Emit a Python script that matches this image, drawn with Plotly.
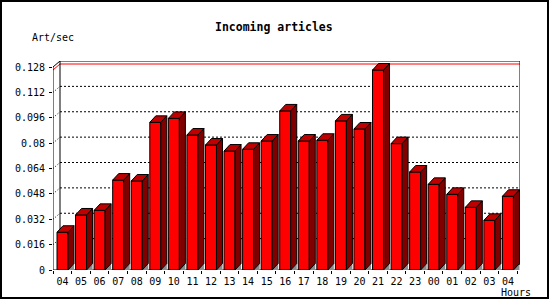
import plotly.graph_objects as go

# ---------------- data ----------------
hours = ["04", "05", "06", "07", "08", "09", "10", "11", "12", "13", "14", "15", "16",
         "17", "18", "19", "20", "21", "22", "23", "00", "01", "02", "03", "04"]
art_per_sec = [0.0238, 0.0347, 0.0376, 0.0567, 0.0561, 0.0931, 0.0956, 0.0851, 0.0788,
               0.0750, 0.0761, 0.0813, 0.1003, 0.0813, 0.0818, 0.0940, 0.0889, 0.1261,
               0.0797, 0.0618, 0.0540, 0.0477, 0.0395, 0.0313, 0.0465]
y_ticks = [0, 0.016, 0.032, 0.048, 0.064, 0.08, 0.096, 0.112, 0.128]
y_tick_text = ["0", "0.016", "0.032", "0.048", "0.064", "0.08", "0.096", "0.112", "0.128"]

title_text = "Incoming articles"
y_title = "Art/sec"
x_title = "Hours"

# ---------------- geometry (pixels) ----------------
W, H = 550, 300
PL, PR, PT, PB = 53, 520, 61, 270          # plot area (includes 3D depth)
CAT0 = 62.5                                 # pixel centre of first category
PX_CAT = 18.56                              # pixels per category
PX_VAL = 203 / 0.128                        # pixels per unit on value axis
BAR_W_PX = 11
BAR_DX, BAR_DY = 6, 6.5                     # bar depth
PL_DX, PL_DY = 7, 6                         # back plane offset

x_lo = (PL - CAT0) / PX_CAT
x_hi = (PR - CAT0) / PX_CAT
y_hi = (PB - PT) / PX_VAL

dxb = BAR_DX / PX_CAT
dyb = BAR_DY / PX_VAL
dxp = PL_DX / PX_CAT
dyp = PL_DY / PX_VAL
hw = BAR_W_PX / PX_CAT / 2

x_front_left = x_lo
x_back_left = x_lo + dxp
x_back_right = x_hi
x_front_right = x_hi - dxp
y_top_front = y_ticks[-1]

FONT = "DejaVu Sans Mono"

shapes = []

# back plane grid (dotted)
for v in y_ticks[1:-1]:
    shapes.append(dict(type="line", xref="x", yref="y", layer="below",
                       x0=x_back_left, x1=x_back_right, y0=v + dyp, y1=v + dyp,
                       line=dict(color="black", width=1, dash="2px,2px")))
    shapes.append(dict(type="line", xref="x", yref="y", layer="below",
                       x0=x_front_left, x1=x_back_left, y0=v, y1=v + dyp,
                       line=dict(color="black", width=1, dash="1px,2px")))

# max line (red)
vmax = max(art_per_sec)
shapes.append(dict(type="path", xref="x", yref="y", layer="below",
                   path=f"M {x_front_left},{vmax} L {x_back_left},{vmax + dyp} L {x_back_right},{vmax + dyp}",
                   line=dict(color="red", width=1)))

# back plane outline + axes
shapes.append(dict(type="path", xref="x", yref="y", layer="below",
                   path=(f"M {x_back_left},{dyp} L {x_back_left},{y_top_front + dyp} "
                         f"L {x_back_right},{y_top_front + dyp} L {x_back_right},{dyp} "
                         f"L {x_front_right},0"),
                   line=dict(color="black", width=1)))
shapes.append(dict(type="path", xref="x", yref="y", layer="below",
                   path=(f"M {x_front_right},0 L {x_front_left},0 L {x_front_left},{y_top_front} "
                         f"L {x_back_left},{y_top_front + dyp}"),
                   line=dict(color="black", width=1)))

# 3D faces for each bar
for i, v in enumerate(art_per_sec):
    xl, xr = i - hw, i + hw
    shapes.append(dict(type="path", xref="x", yref="y", layer="above",
                       path=f"M {xr},0 L {xr + dxb},{dyb} L {xr + dxb},0 Z",
                       fillcolor="#8c8c8c", line=dict(width=0)))
    shapes.append(dict(type="path", xref="x", yref="y", layer="above",
                       path=f"M {xr},0 L {xr + dxb},{dyb} L {xr + dxb},{v + dyb} L {xr},{v} Z",
                       fillcolor="#800000", line=dict(color="black", width=1)))
    shapes.append(dict(type="path", xref="x", yref="y", layer="above",
                       path=f"M {xl},{v} L {xr},{v} L {xr + dxb},{v + dyb} L {xl + dxb},{v + dyb} Z",
                       fillcolor="#c00000", line=dict(color="black", width=1)))

# outer border (paper)
def px2paper_x(px):
    return (px - PL) / (PR - PL)

def px2paper_y(py):
    return (PB - py) / (PB - PT)

shapes.append(dict(type="rect", xref="paper", yref="paper", layer="above",
                   x0=px2paper_x(1), x1=px2paper_x(548), y0=px2paper_y(1), y1=px2paper_y(298),
                   line=dict(color="black", width=2)))

fig = go.Figure()
fig.add_trace(go.Bar(
    x=list(range(len(hours))), y=art_per_sec, width=BAR_W_PX / PX_CAT,
    marker=dict(color="#ff0000", line=dict(color="black", width=1)),
    hoverinfo="skip", showlegend=False,
))

fig.update_layout(
    width=W, height=H,
    margin=dict(l=PL, r=W - PR, t=PT, b=H - PB, pad=0),
    paper_bgcolor="white", plot_bgcolor="white",
    showlegend=False,
    shapes=shapes,
    xaxis=dict(range=[x_lo, x_hi], showgrid=False, zeroline=False, showline=False,
               tickmode="array", tickvals=list(range(len(hours))), ticktext=hours,
               ticks="", tickfont=dict(family=FONT, size=10, color="black"),
               ticklabelstandoff=4,
               minor=dict(tickmode="array",
                          tickvals=[i - 0.5 for i in range(len(hours) + 1)],
                          ticks="outside", ticklen=3, tickcolor="black", tickwidth=1,
                          showgrid=False),
               fixedrange=True),
    yaxis=dict(range=[0, y_hi], showgrid=False, zeroline=False, showline=False,
               tickmode="array", tickvals=y_ticks, ticktext=y_tick_text,
               ticks="outside", ticklen=3, tickcolor="black", tickwidth=1,
               tickfont=dict(family=FONT, size=10, color="black"),
               ticklabelstandoff=2, fixedrange=True),
    annotations=[
        dict(text=f"<b>{title_text}</b>", xref="paper", yref="paper",
             x=px2paper_x(274), y=px2paper_y(27), xanchor="center", yanchor="middle",
             showarrow=False, font=dict(family=FONT, size=11.5, color="black")),
        dict(text=y_title, xref="paper", yref="paper",
             x=px2paper_x(30), y=px2paper_y(37.5), xanchor="left", yanchor="middle",
             showarrow=False, font=dict(family=FONT, size=10, color="black")),
        dict(text=x_title, xref="paper", yref="paper",
             x=px2paper_x(533), y=px2paper_y(292), xanchor="right", yanchor="middle",
             showarrow=False, font=dict(family=FONT, size=10, color="black")),
    ],
)

fig.write_html("out.html", config={"displayModeBar": False})
